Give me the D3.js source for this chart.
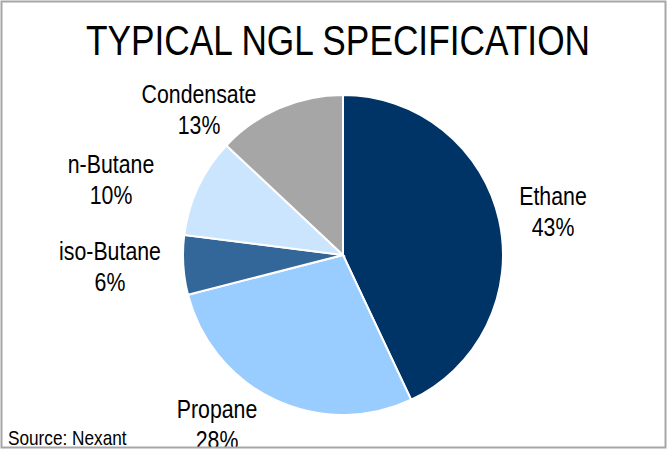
<!DOCTYPE html>
<html>
<head>
<meta charset="utf-8">
<script src="https://cdn.jsdelivr.net/npm/d3@7"></script>
<style>
  body { margin: 0; background: #fff; }
  svg text { font-family: 'Liberation Sans', Arial, sans-serif; fill: #000; }
</style>
</head>
<body>
<div id="chart"></div>
<script>
var categories = ["Ethane", "Propane", "iso-Butane", "n-Butane", "Condensate"];
var shares = [43, 28, 6, 10, 13];
var colours = ["#003366", "#99CCFF", "#336699", "#CCE5FF", "#A6A6A6"];

var width = 667, height = 449;
var cx = 343, cy = 255, radius = 160;
var narrow = 0.82; // no Arial Narrow here, squeeze Liberation Sans instead

// label centres (layout only), placed like the original
var labelPos = {
  "Ethane":     [553, 205],
  "Propane":    [217, 418],
  "iso-Butane": [110, 260],
  "n-Butane":   [111, 173],
  "Condensate": [199, 103]
};

var svg = d3.select("#chart").append("svg")
    .attr("width", width)
    .attr("height", height);

svg.append("clipPath").attr("id", "frame")
  .append("rect")
    .attr("x", 2).attr("y", 2)
    .attr("width", width - 4).attr("height", height - 4);

var body = svg.append("g").attr("clip-path", "url(#frame)");

function narrowText(parent, x, y, size) {
  return parent.append("g")
      .attr("transform", "translate(" + x + "," + y + ") scale(" + narrow + ",1)")
    .append("text")
      .attr("font-size", size);
}

narrowText(body, 338, 55, 43)
    .attr("text-anchor", "middle")
    .text("TYPICAL NGL SPECIFICATION");

var data = categories.map(function(c, i) { return { name: c, value: shares[i], colour: colours[i] }; });

var pie = d3.pie().sort(null).value(function(d) { return d.value; });
var arc = d3.arc().innerRadius(0).outerRadius(radius);

var g = body.append("g").attr("transform", "translate(" + cx + "," + cy + ")");

g.selectAll("path").data(pie(data)).enter().append("path")
    .attr("d", arc)
    .attr("fill", function(d) { return d.data.colour; })
    .attr("stroke", "#fff")
    .attr("stroke-width", 2);

data.forEach(function(d) {
  var p = labelPos[d.name];
  var t = narrowText(body, p[0], p[1], 26).attr("text-anchor", "middle");
  t.append("tspan").attr("x", 0).text(d.name);
  t.append("tspan").attr("x", 0).attr("dy", 31).text(d.value + "%");
});

narrowText(body, 8, 445, 21).text("Source: Nexant");

svg.append("rect")
    .attr("x", 1.5).attr("y", 1.5)
    .attr("width", width - 3).attr("height", height - 3)
    .attr("fill", "none")
    .attr("stroke", "#A6A6A6")
    .attr("stroke-width", 2);
</script>
</body>
</html>
